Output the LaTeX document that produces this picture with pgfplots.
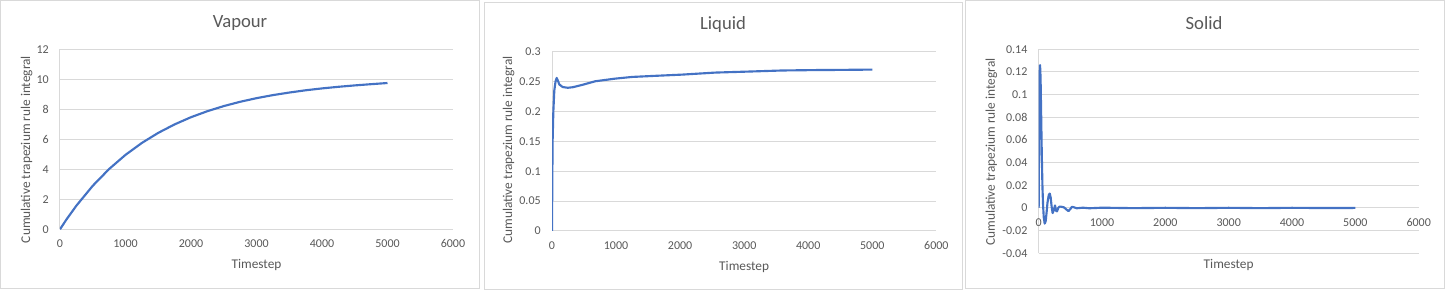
\documentclass[border=0pt]{standalone}
\usepackage{pgfplots}
\pgfplotsset{compat=1.18}
\usepackage{fontspec}
\setmainfont{Carlito}
\definecolor{gridgray}{HTML}{D9D9D9}
\definecolor{txtgray}{HTML}{595959}
\definecolor{xlblue}{HTML}{4472C4}

\pgfplotsset{
  xlline/.style={draw=xlblue, line width=1.6pt, line join=round, mark=none},
  xlstyle/.style={
    scale only axis,
    /pgf/number format/assume math mode=true,
    axis line style={-, draw=gridgray, line width=0.75pt},
    major tick length=0pt,
    ymajorgrids,
    grid style={draw=gridgray, line width=0.75pt},
    tick label style={font=\fontsize{9}{10}\selectfont, text=txtgray},
    xticklabel style={anchor=center, yshift=-10.9pt},
    yticklabel style={anchor=east, inner sep=0pt, xshift=-8.3pt},
    label style={font=\fontsize{10}{12}\selectfont, text=txtgray},
    xmin=0, xmax=6000,
    xtick={0,1000,2000,3000,4000,5000,6000},
    xticklabels={0,1000,2000,3000,4000,5000,6000},
    xlabel={Timestep},
    ylabel={Cumulative trapezium rule integral},
    axis y line*=left,
  }
}

\begin{document}
\begin{tikzpicture}
\path[use as bounding box] (0,0) rectangle (1085.25pt,218.25pt);
\fill[white] (0,0) rectangle (1085.25pt,218.25pt);
% panel frames
\draw[gridgray, line width=0.75pt] (0.5pt,2pt) rectangle (359.25pt,217.75pt);
\draw[gridgray, line width=0.75pt] (363pt,0.75pt) rectangle (721.5pt,216.5pt);
\draw[gridgray, line width=0.75pt] (724pt,2pt) rectangle (1083pt,217.5pt);

% titles
\node[text=txtgray, font=\fontsize{14}{16}\selectfont] at (180pt,200.8pt) {Vapour};
\node[text=txtgray, font=\fontsize{14}{16}\selectfont] at (542.25pt,199.5pt) {Liquid};
\node[text=txtgray, font=\fontsize{14}{16}\selectfont] at (903pt,201.2pt) {Solid};

% ---------- Vapour ----------
\begin{axis}[xlstyle,
  at={(45pt,46.3pt)}, anchor=south west,
  width=294.75pt, height=135pt,
  axis x line*=bottom,
  ymin=0, ymax=12,
  ytick={0,2,4,6,8,10,12},
  yticklabels={0,2,4,6,8,10,12},
  xlabel style={at={(axis description cs:0.5,0)}, anchor=center, yshift=-26.8pt},
  ylabel style={at={(axis description cs:-0.0847,0.443)}, anchor=center},
]
\addplot[xlline] coordinates {
(0,0) (100,0.661) (250,1.572) (500,2.898) (750,4.017) (1000,4.960)
(1250,5.755) (1500,6.426) (1750,6.992) (2000,7.470) (2250,7.871)
(2500,8.211) (2750,8.498) (3000,8.739) (3250,8.943) (3500,9.114)
(3750,9.265) (4000,9.390) (4250,9.497) (4500,9.590) (4750,9.672) (5000,9.750)
};
\end{axis}

% ---------- Liquid ----------
\begin{axis}[xlstyle,
  at={(414pt,45pt)}, anchor=south west,
  width=288.25pt, height=134.5pt,
  axis x line*=bottom,
  ymin=0, ymax=0.3,
  ytick={0,0.05,0.1,0.15,0.2,0.25,0.3},
  yticklabels={0,0.05,0.1,0.15,0.2,0.25,0.3},
  xlabel style={at={(axis description cs:0.5,0)}, anchor=center, yshift=-26.8pt},
  ylabel style={at={(axis description cs:-0.1128,0.452)}, anchor=center},
]
\addplot[xlline] coordinates {
(0,0) (5,0.09) (10,0.152) (21,0.200) (36,0.235) (55,0.250) (73,0.256)
(90,0.252) (115,0.245) (167,0.2408) (245,0.2396) (323,0.2405)
(468,0.2443) (676,0.2505) (988,0.2549) (1249,0.2577) (1600,0.2595)
(2030,0.2616) (2549,0.2650) (3070,0.2667) (3590,0.2685) (4110,0.2692)
(4500,0.2695) (5000,0.2700)
};
\end{axis}

% ---------- Solid ----------
\begin{axis}[xlstyle,
  at={(779pt,28.3pt)}, anchor=south west,
  width=285pt, height=153pt,
  axis x line*=middle,
  hide obscured x ticks=false,
  ymin=-0.04, ymax=0.14,
  ytick={-0.04,-0.02,0,0.02,0.04,0.06,0.08,0.1,0.12,0.14},
  yticklabels={-0.04,-0.02,0,0.02,0.04,0.06,0.08,0.1,0.12,0.14},
  xlabel style={at={(axis description cs:0.5,0)}, anchor=center, yshift=-8.8pt},
  ylabel style={at={(axis description cs:-0.1247,0.4966)}, anchor=center},
]
\addplot[xlline] coordinates {
(0,0) (8,0.080) (15,0.118) (22,0.126) (30,0.115) (40,0.080) (50,0.045)
(60,0.018) (70,0.002) (80,-0.008) (95,-0.0138) (110,-0.012) (125,-0.004)
(140,0.005) (160,0.0115) (175,0.0127) (190,0.009) (205,0.001)
(220,-0.0045) (240,-0.002) (258,0.0022) (275,-0.0025) (290,-0.003)
(310,0.0) (330,0.0012) (360,0.0010) (400,0.0005) (440,-0.0015)
(470,-0.0028) (500,-0.0010) (525,0.0010) (560,0.0005) (600,-0.0003)
(700,0.0002) (800,-0.0003) (1000,0.0002) (1500,-0.0002) (2000,0.0001)
(2500,-0.0002) (3000,0.0001) (3500,-0.0002) (4000,0.0001) (4500,-0.0001) (5000,0.0000)
};
\end{axis}
\end{tikzpicture}
\end{document}
